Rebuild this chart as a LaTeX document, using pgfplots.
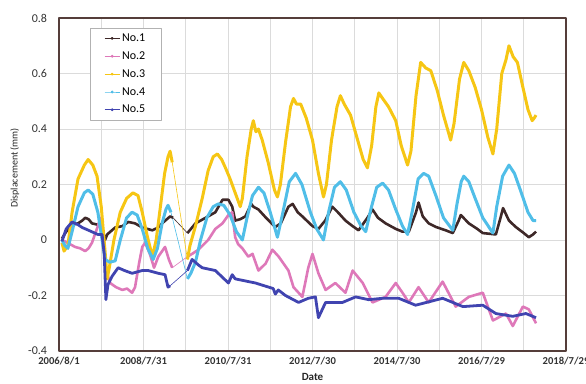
\documentclass[border=0pt]{standalone}
\usepackage{fontspec}
\setmainfont{Carlito}
\usepackage{pgfplots}
\usepackage{pgfplotstable}
\pgfplotsset{compat=1.18}
\definecolor{cOne}{RGB}{62,40,40}
\definecolor{cTwo}{RGB}{222,120,185}
\definecolor{cThree}{RGB}{246,198,20}
\definecolor{cFour}{RGB}{80,190,232}
\definecolor{cFive}{RGB}{64,68,176}
\definecolor{frame}{RGB}{85,62,58}

\pgfplotstableread{
x y
0.07 0.005
0.17 0.03
0.31 0.055
0.45 0.06
0.55 0.07
0.62 0.08
0.70 0.075
0.78 0.06
0.92 0.055
1.02 0.045
1.09 0.0
1.14 0.02
1.33 0.045
1.50 0.05
1.64 0.065
1.80 0.06
1.97 0.045
2.21 0.035
2.35 0.045
2.44 0.06
2.63 0.085
2.70 0.08
nan nan
3.04 0.025
3.15 0.045
3.23 0.06
3.53 0.085
3.70 0.10
3.87 0.145
4.01 0.145
4.10 0.12
4.17 0.07
4.29 0.075
4.41 0.085
4.55 0.13
4.60 0.12
4.72 0.11
4.90 0.08
5.12 0.047
5.25 0.06
5.43 0.12
5.53 0.13
5.65 0.10
5.76 0.085
6.00 0.05
6.14 0.04
6.30 0.07
6.47 0.12
6.60 0.10
6.78 0.07
6.95 0.05
7.09 0.035
7.30 0.08
7.42 0.11
7.55 0.08
7.73 0.06
7.97 0.04
8.13 0.03
8.28 0.03
8.45 0.10
8.51 0.135
8.61 0.085
8.75 0.06
8.92 0.047
9.15 0.035
9.32 0.025
9.46 0.07
9.51 0.09
9.70 0.06
9.90 0.04
10.03 0.025
10.34 0.02
10.45 0.08
10.51 0.115
10.65 0.07
10.81 0.047
11.00 0.025
11.12 0.01
11.22 0.02
11.29 0.03
}\dataOne

\pgfplotstableread{
x y
0.07 0.0
0.20 -0.01
0.38 -0.025
0.50 -0.03
0.62 -0.04
0.70 -0.03
0.78 -0.01
0.85 0.02
0.92 0.05
0.98 0.08
1.04 0.02
1.10 -0.10
1.21 -0.155
1.35 -0.17
1.50 -0.18
1.61 -0.175
1.73 -0.19
1.80 -0.17
1.90 -0.08
1.97 -0.025
2.04 -0.01
2.15 -0.05
2.25 -0.10
2.35 -0.06
2.51 -0.025
2.60 -0.07
2.68 -0.10
nan nan
3.04 -0.06
3.15 -0.05
3.30 -0.035
3.53 0.0
3.70 0.04
3.87 0.06
4.01 0.09
4.10 0.10
4.17 0.01
4.24 -0.015
4.34 -0.03
4.48 -0.06
4.58 -0.05
4.72 -0.11
4.89 -0.085
5.05 -0.035
5.20 -0.06
5.43 -0.11
5.55 -0.17
5.76 -0.205
5.90 -0.10
6.00 -0.05
6.14 -0.12
6.31 -0.18
6.54 -0.155
6.78 -0.19
6.95 -0.11
7.19 -0.155
7.42 -0.225
7.73 -0.205
7.97 -0.155
8.13 -0.19
8.28 -0.225
8.51 -0.17
8.75 -0.225
9.08 -0.15
9.39 -0.24
9.70 -0.205
10.03 -0.19
10.27 -0.29
10.58 -0.265
10.74 -0.31
10.98 -0.24
11.12 -0.25
11.29 -0.30
}\dataTwo

\pgfplotstableread{
x y
0.07 -0.01
0.12 -0.04
0.21 -0.02
0.31 0.10
0.45 0.22
0.60 0.27
0.69 0.29
0.80 0.27
0.90 0.23
1.00 0.12
1.09 -0.04
1.14 -0.14
1.19 -0.10
1.30 0.00
1.45 0.10
1.60 0.15
1.75 0.17
1.87 0.16
1.97 0.10
2.08 0.02
2.21 -0.06
2.30 0.00
2.40 0.12
2.50 0.24
2.58 0.30
2.63 0.32
2.68 0.28
nan nan
3.04 -0.07
3.10 -0.02
3.23 0.05
3.39 0.15
3.53 0.25
3.65 0.30
3.75 0.31
3.85 0.29
3.94 0.26
4.05 0.22
4.17 0.17
4.29 0.12
4.34 0.15
4.45 0.30
4.55 0.40
4.60 0.43
4.66 0.39
4.72 0.40
4.81 0.36
4.95 0.28
5.10 0.18
5.17 0.155
5.24 0.20
5.36 0.35
5.48 0.48
5.55 0.51
5.62 0.49
5.72 0.49
5.85 0.44
6.00 0.36
6.14 0.24
6.26 0.155
6.33 0.20
6.45 0.36
6.58 0.48
6.66 0.52
6.75 0.49
6.90 0.45
7.05 0.37
7.20 0.29
7.30 0.26
7.40 0.34
7.50 0.48
7.57 0.53
7.66 0.51
7.80 0.48
7.97 0.43
8.10 0.34
8.25 0.27
8.33 0.32
8.45 0.52
8.56 0.64
8.68 0.62
8.80 0.61
8.95 0.54
9.10 0.45
9.27 0.36
9.35 0.42
9.48 0.58
9.58 0.64
9.70 0.61
9.85 0.55
10.00 0.47
10.15 0.37
10.27 0.31
10.36 0.40
10.48 0.60
10.58 0.65
10.65 0.70
10.75 0.66
10.85 0.64
10.98 0.55
11.10 0.47
11.20 0.43
11.25 0.44
11.29 0.45
}\dataThree

\pgfplotstableread{
x y
0.07 0.0
0.14 -0.02
0.21 -0.03
0.31 0.03
0.45 0.12
0.60 0.17
0.69 0.18
0.80 0.165
0.92 0.10
1.02 0.00
1.09 -0.07
1.20 -0.08
1.33 -0.075
1.45 0.00
1.60 0.08
1.73 0.10
1.85 0.09
1.97 0.04
2.10 -0.03
2.23 -0.07
2.33 -0.03
2.44 0.06
2.53 0.11
2.58 0.125
2.65 0.10
nan nan
3.04 -0.14
3.12 -0.12
3.23 -0.08
3.35 0.00
3.50 0.08
3.65 0.12
3.77 0.13
3.90 0.125
4.05 0.09
4.20 0.03
4.34 0.0
4.45 0.08
4.58 0.16
4.72 0.19
4.85 0.17
5.00 0.10
5.17 0.01
5.30 0.10
5.45 0.21
5.60 0.24
5.75 0.20
5.95 0.10
6.10 0.04
6.26 0.0
6.38 0.10
6.52 0.19
6.66 0.21
6.80 0.18
6.98 0.10
7.15 0.05
7.26 0.03
7.38 0.11
7.52 0.19
7.66 0.205
7.80 0.18
7.97 0.11
8.13 0.05
8.25 0.02
8.37 0.11
8.50 0.22
8.63 0.24
8.75 0.23
8.92 0.16
9.10 0.08
9.32 0.035
9.42 0.13
9.52 0.21
9.58 0.23
9.70 0.21
9.85 0.15
10.03 0.08
10.27 0.025
10.36 0.12
10.50 0.23
10.65 0.27
10.78 0.24
10.92 0.18
11.10 0.10
11.22 0.07
11.29 0.07
}\dataFour

\pgfplotstableread{
x y
0.07 -0.005
0.17 0.04
0.31 0.065
0.45 0.055
0.55 0.045
0.70 0.035
0.92 0.02
1.02 0.02
1.07 -0.05
1.11 -0.215
1.16 -0.16
1.26 -0.13
1.40 -0.10
1.55 -0.11
1.73 -0.12
1.97 -0.11
2.11 -0.11
2.35 -0.12
2.51 -0.125
2.58 -0.17
2.63 -0.165
nan nan
3.04 -0.11
3.15 -0.07
3.30 -0.09
3.39 -0.10
3.70 -0.11
4.01 -0.155
4.10 -0.125
4.17 -0.14
4.65 -0.155
5.07 -0.175
5.12 -0.195
5.19 -0.18
5.36 -0.20
5.67 -0.225
5.90 -0.21
6.07 -0.205
6.14 -0.28
6.31 -0.225
6.71 -0.225
7.02 -0.205
7.33 -0.215
7.66 -0.21
8.04 -0.21
8.44 -0.235
9.08 -0.21
9.56 -0.24
10.03 -0.235
10.34 -0.265
10.74 -0.275
11.05 -0.265
11.29 -0.28
}\dataFive

\begin{document}
\begin{tikzpicture}
\path[use as bounding box] (-59pt,-32pt) rectangle (527pt,351pt);
\begin{axis}[
  scale only axis, width=507pt, height=333pt,
  xmin=0, xmax=12, ymin=-0.4, ymax=0.8,
  xtick={0,2,4,6,8,10,12},
  xticklabels={2006/8/1,2008/7/31,2010/7/31,2012/7/30,2014/7/30,2016/7/29,2018/7/29},
  minor xtick={1,3,5,7,9,11},
  ytick={-0.4,-0.2,0,0.2,0.4,0.6,0.8},
  yticklabels={-0.4,-0.2,0,0.2,0.4,0.6,0.8},
  major tick length=0pt, minor tick length=0pt,
  grid=both,
  major grid style={draw=gray!28, line width=0.6pt},
  minor grid style={draw=gray!28, line width=0.6pt},
  axis line style={draw=frame, line width=1.2pt},
  xticklabel style={font=\fontsize{10.6}{12}\selectfont\bfseries, yshift=-3pt, text=black!80},
  yticklabel style={font=\fontsize{12}{14}\selectfont, xshift=-8.5pt, text=black!80},
  xlabel={Date}, ylabel={Displacement (mm)},
  every axis x label/.style={at={(axis description cs:0.5,-0.077)}, anchor=center, font=\fontsize{11}{13}\selectfont\bfseries, text=black!85},
  every axis y label/.style={at={(axis description cs:-0.087,0.55)}, rotate=90, anchor=center, font=\fontsize{10}{12}\selectfont, text=black!85},
  legend style={at={(axis description cs:0.061,0.97)}, anchor=north west, draw=gray!60, line width=0.6pt, font=\fontsize{12}{14}\selectfont, row sep=4.6pt, inner xsep=14pt, inner ysep=3.5pt, fill=white},
  legend image code/.code={\draw[mark repeat=2,mark phase=2,#1] plot coordinates {(0pt,0pt)(7.5pt,0pt)(15pt,0pt)};},
  legend cell align=left,
  line join=round,
]
% thin connections across data gaps
\addplot[cOne, line width=0.6pt, unbounded coords=discard, forget plot] table {\dataOne};
\addplot[cTwo, line width=0.6pt, unbounded coords=discard, forget plot] table {\dataTwo};
\addplot[cThree, line width=0.6pt, unbounded coords=discard, forget plot] table {\dataThree};
\addplot[cFour, line width=0.6pt, unbounded coords=discard, forget plot] table {\dataFour};
\addplot[cFive, line width=0.6pt, unbounded coords=discard, forget plot] table {\dataFive};
% thick measured segments
\addplot[cOne, line width=2.6pt, unbounded coords=jump, forget plot] table {\dataOne};
\addplot[cTwo, line width=2.6pt, unbounded coords=jump, forget plot] table {\dataTwo};
\addplot[cThree, line width=3pt, unbounded coords=jump, forget plot] table {\dataThree};
\addplot[cFour, line width=3pt, unbounded coords=jump, forget plot] table {\dataFour};
\addplot[cFive, line width=2.8pt, unbounded coords=jump, forget plot] table {\dataFive};
\addlegendimage{cOne, line width=0.9pt, mark=*, mark size=1pt}
\addlegendentry{No.1}
\addlegendimage{cTwo, line width=0.9pt, mark=*, mark size=1pt}
\addlegendentry{No.2}
\addlegendimage{cThree, line width=0.9pt, mark=*, mark size=1pt}
\addlegendentry{No.3}
\addlegendimage{cFour, line width=0.9pt, mark=*, mark size=1pt}
\addlegendentry{No.4}
\addlegendimage{cFive, line width=0.9pt, mark=*, mark size=1pt}
\addlegendentry{No.5}
\end{axis}
\end{tikzpicture}
\end{document}
